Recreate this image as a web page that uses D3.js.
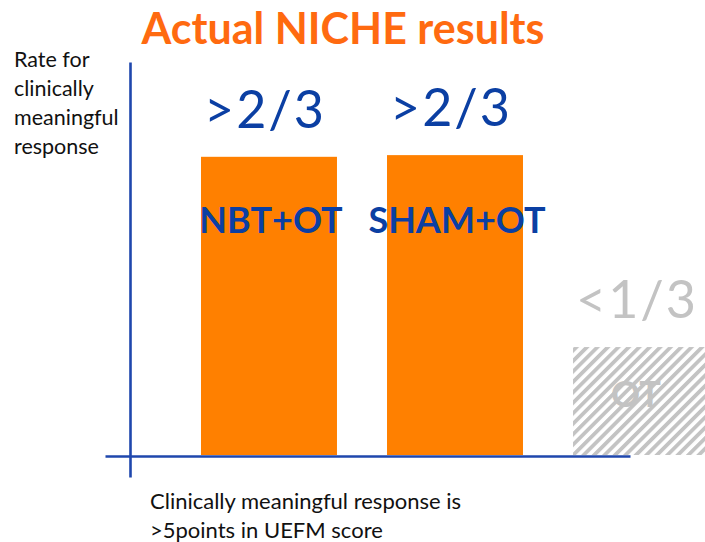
<!DOCTYPE html>
<html>
<head>
<meta charset="utf-8">
<script src="https://cdn.jsdelivr.net/npm/d3@7"></script>
<style>
  body { margin: 0; background: #fff; }
  text { font-family: Lato, "Open Sans", sans-serif; }
</style>
</head>
<body>
<div id="target"></div>
<script>
// chart data
const categories = ["NBT+OT", "SHAM+OT", "OT"];
const rates = [0.71, 0.714, 0.257];
const rateLabels = [">2/3", ">2/3", "<1/3"];
const hypothetical = [false, false, true];
const yLabelLines = ["Rate for", "clinically", "meaningful", "response"];
const noteLines = ["Clinically meaningful response is", ">5points in UEFM score"];

function bar() {
  const width = 705,
    height = 542,
    baseY = 455,
    orange = "#ff8000",
    blue = "#0b3fa3",
    gray = "#c3c3c3",
    axisBlue = "#1f47ad";

  let svg = d3.select("#target").append("svg")
    .attr("width", width)
    .attr("height", height);

  let defs = svg.append("defs");
  defs.append("pattern")
    .attr("id", "hatch")
    .attr("patternUnits", "userSpaceOnUse")
    .attr("width", 7.4)
    .attr("height", 7.4)
    .attr("patternTransform", "rotate(45)")
    .append("rect")
    .attr("width", 3.8)
    .attr("height", 7.4)
    .attr("fill", gray);

  let x = d3.scaleBand()
    .domain(categories)
    .range([201, 709])
    .paddingInner(0.269)
    .paddingOuter(0);
  let y = d3.scaleLinear()
    .domain([0, 1])
    .range([baseY, 35]);

  // title
  svg.append("text")
    .attr("x", 343)
    .attr("y", 44)
    .attr("text-anchor", "middle")
    .style("font-size", "43px")
    .style("font-weight", "bold")
    .style("fill", "#ff6a10")
    .text("Actual NICHE results");

  // y label
  svg.append("text")
    .attr("x", 14)
    .attr("y", 67)
    .style("font-size", "21.5px")
    .style("fill", "#111")
    .selectAll("tspan")
    .data(yLabelLines)
    .enter().append("tspan")
    .attr("x", 14)
    .attr("dy", (d, i) => i === 0 ? 0 : 29)
    .text((d) => d);

  let data = categories.map((c, i) => ({
    cat: c, rate: rates[i], label: rateLabels[i], hyp: hypothetical[i]
  }));

  svg.selectAll("rect.bar")
    .data(data)
    .enter().append("rect")
    .attr("class", "bar")
    .attr("x", (d) => x(d.cat))
    .attr("width", x.bandwidth())
    .attr("y", (d) => y(d.rate))
    .attr("height", (d) => baseY - y(d.rate))
    .style("fill", (d) => d.hyp ? "url(#hatch)" : orange);

  // axes
  let xAxis = d3.axisBottom(d3.scaleLinear().range([105, 630]))
    .ticks(0)
    .tickSizeOuter(0);
  let yAxis = d3.axisLeft(d3.scaleLinear().range([62, 477]))
    .ticks(0)
    .tickSizeOuter(0);
  svg.append("g")
    .attr("class", "x axis")
    .attr("transform", `translate(0, ${baseY + 1})`)
    .call(xAxis);
  svg.append("g")
    .attr("class", "y axis")
    .attr("transform", "translate(130, 0)")
    .call(yAxis);
  svg.selectAll(".axis path")
    .attr("stroke", axisBlue)
    .attr("stroke-width", 2.6);

  // rate labels above bars
  svg.selectAll("text.rate")
    .data(data)
    .enter().append("text")
    .attr("class", "rate")
    .attr("x", (d) => x(d.cat) + x.bandwidth() / 2 - 4)
    .attr("y", (d) => y(d.rate) - 29)
    .attr("text-anchor", "middle")
    .style("font-size", "52px")
    .style("letter-spacing", "2px")
    .style("fill", (d) => d.hyp ? gray : blue)
    .text((d) => d.label);

  // category names inside bars
  svg.selectAll("text.cat")
    .data(data)
    .enter().append("text")
    .attr("class", "cat")
    .attr("x", (d) => x(d.cat) + x.bandwidth() / 2 + (d.hyp ? -5 : 2))
    .attr("y", (d) => d.hyp ? 407 : 233)
    .attr("text-anchor", "middle")
    .style("font-size", "36px")
    .style("font-weight", "bold")
    .style("fill", (d) => d.hyp ? gray : blue)
    .text((d) => d.cat);

  // note
  svg.append("text")
    .attr("y", 509)
    .style("font-size", "22px")
    .style("fill", "#111")
    .selectAll("tspan")
    .data(noteLines)
    .enter().append("tspan")
    .attr("x", 150)
    .attr("dy", (d, i) => i === 0 ? 0 : 29)
    .text((d) => d);
}
bar();
</script>
</body>
</html>
